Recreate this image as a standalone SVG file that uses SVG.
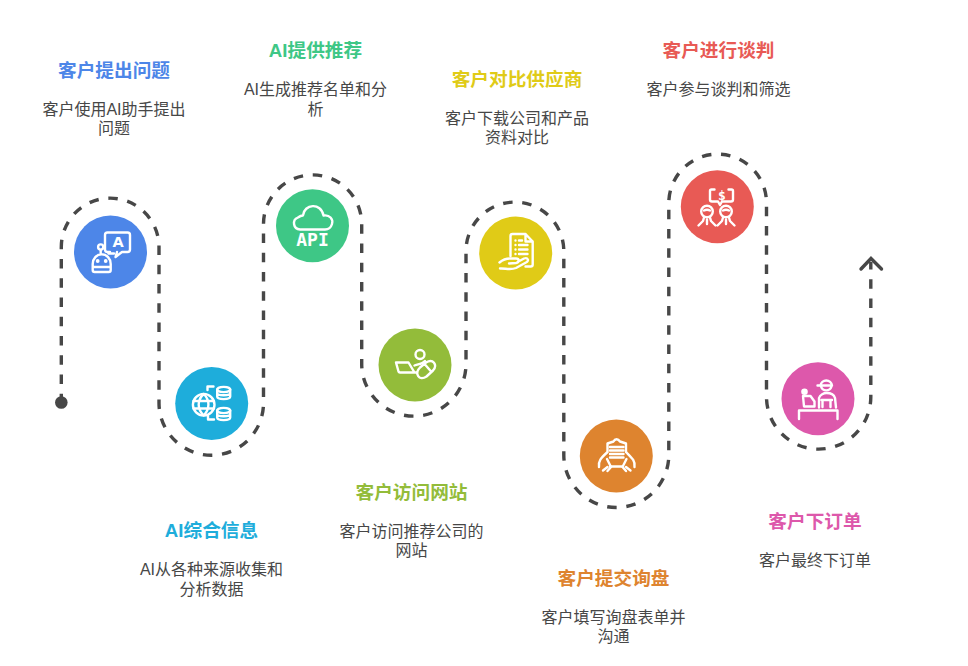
<svg xmlns="http://www.w3.org/2000/svg" width="968" height="666" viewBox="0 0 968 666">
<style>
text{font-family:"Liberation Sans","Noto Sans CJK SC",sans-serif;text-anchor:middle}
.t{font-size:18.67px;font-weight:700}
.b{font-size:16px;fill:#474747}
.ic{fill:none;stroke:#fff;stroke-width:2.4;stroke-linecap:round;stroke-linejoin:round}
.g{font-family:"DejaVu Sans",sans-serif;font-weight:700;fill:#fff}
.m{font-family:"DejaVu Sans Mono",monospace;font-weight:700;fill:#fff}
.ln{fill:none;stroke:#474747;stroke-width:3.4}
</style>
<rect width="968" height="666" fill="#fff"/>
<g id="connectors">
<path class="ln" stroke-dasharray="9.5 9.75" d="M61.3 403.250V247A40 40 0 0 1 159 247V403A40 40 0 0 0 263.500 403V224A40 40 0 0 1 361.700 224V364A40 40 0 0 0 466 364V251A40 40 0 0 1 563.800 251V455A40 40 0 0 0 668.800 455V203A40 40 0 0 1 766.500 203V397A40 40 0 0 0 870.800 397V262"/>
<circle cx="61.3" cy="402.5" r="6.3" fill="#474747"/>
<path class="ln" stroke-linecap="round" d="M861 269L871 258.500L881.500 269"/>
</g>
<g id="n1">
<circle cx="110.500" cy="252" r="36.500" fill="#4d86e8"/>
<path class="ic" d="M110 252H107.500A2.500 2.500 0 0 1 105 249.500V235A2.500 2.500 0 0 1 107.500 232.500H127.500A2.500 2.500 0 0 1 130 235V249.500A2.500 2.500 0 0 1 127.500 252H122L115.500 257L117 252"/>
<text class="g" x="118" y="247" font-size="14.500">A</text>
<path class="ic" d="M108.500 253.500H114"/>
<circle class="ic" cx="100.700" cy="247" r="2.600"/>
<path class="ic" d="M100.700 250V254M92.700 264A8.800 9.500 0 0 1 110.700 264V270A2 2 0 0 1 108.700 272H94.700A2 2 0 0 1 92.700 270ZM93 267H110"/>
<circle cx="97.700" cy="261" r="1.900" fill="#fff"/><circle cx="105.700" cy="261" r="1.900" fill="#fff"/>
</g>
<g id="n2">
<circle cx="211.700" cy="403.500" r="36.500" fill="#1eaddb"/>
<circle class="ic" cx="203.700" cy="404.700" r="10.800"/>
<path class="ic" d="M193.500 401H214M193.500 408.500H214M203.700 394C197 400 197 409 203.700 415.500C210 409 210 400 203.700 394Z" stroke-width="2"/>
<path class="ic" d="M207.500 390V386.500H213.500M208 416V419.500H214"/>
<ellipse class="ic" cx="223.700" cy="389.500" rx="6.500" ry="2.600"/>
<path class="ic" d="M217.200 389.500V396.500C217.200 400 230.200 400 230.200 396.500V389.500M217.200 393C217.200 396 230.200 396 230.200 393"/>
<ellipse class="ic" cx="223.700" cy="410.500" rx="6.500" ry="2.600"/>
<path class="ic" d="M217.200 410.500V417.500C217.200 421 230.200 421 230.200 417.500V410.500M217.200 414C217.200 417 230.200 417 230.200 414"/>
</g>
<g id="n3">
<circle cx="312.500" cy="225.700" r="36.500" fill="#3ec786"/>
<path class="ic" d="M301 229.500H300A6.200 6.200 0 0 1 298 217.500C300 216 301.500 215.500 303 215.500C304 204 321 202 323.500 215.500C329.500 214.500 333.500 219 332 224C331 227.500 328 229.500 325 229.500Z"/>
<text class="m" x="312.500" y="245.500" font-size="18">API</text>
</g>
<g id="n4">
<circle cx="415" cy="365" r="36.500" fill="#93bc3a"/>
<circle class="ic" cx="420" cy="354.500" r="4.500"/>
<path class="ic" d="M414.500 365.500C417 364.500 423 364 425 361M396 362.500H408.500L414.500 372.500H400A1.500 1.500 0 0 1 398.500 371.500ZM414.500 372.500H417"/>
<path class="ic" d="M420 367.500L426 362.500C433 358 438 365 433 370.500L426.500 376.500C419 381.500 414 373.500 420 367.500ZM425 364.500L431.500 372"/>
</g>
<g id="n5">
<circle cx="515.700" cy="253" r="36.500" fill="#e0cb17"/>
<path class="ic" d="M510.500 256V236A2 2 0 0 1 512.500 234H525.500L532.700 241.500V264.500A2 2 0 0 1 530.700 266.500H525.500M525.500 234V241.500H532.700"/>
<path class="ic" d="M515.500 240.500V240.500M515.500 245V245M515.500 249.500V249.500M515.500 254V254M519 245H527.500M519 249.500H527.500M519 254H527.500M519 240.500H522" stroke-width="2.200"/>
<path class="ic" d="M499.500 262.500C503 259.500 506 258.500 510 258.500H516C519.500 258.500 519.500 262.500 516 263L509 263.500M518.500 261.500L524 258.500C528 257 529.500 261 526 262.500L516 268C510 270.500 505 268 500 268.500"/>
</g>
<g id="n6">
<circle cx="616.300" cy="456" r="36.500" fill="#de842f"/>
<path class="ic" d="M607.500 452V443.500L613.500 441.500C615 438.500 618 438.500 620 441.500L626 443.500V452M610 466.500H623"/>
<path class="ic" d="M610 447H623.500M610 450.500H623.500M610 454H623.500M610 457.500H623.500" stroke-width="1.700"/>
<path class="ic" d="M599 467C598 461 601 458 607 452.500M607 459L611 467L607.500 471M603 470.500L607.500 467M634.500 467C635.500 461 632 458 626.500 452.500M626.500 459L622.500 467L626 471M630.500 470.500L626 467"/>
</g>
<g id="n7">
<circle cx="717.300" cy="206.700" r="36.500" fill="#e85a55"/>
<path class="ic" d="M714.500 189.500H711.500A1.500 1.500 0 0 0 710 191V199.500A2 2 0 0 0 712 201.500H718L720 205L722 201.500H731A2 2 0 0 0 733 199.500V191A1.500 1.500 0 0 0 731.500 189.500H728.500"/>
<text class="m" x="721.800" y="199.500" font-size="13">$</text>
<circle class="ic" cx="707" cy="211.500" r="5.800"/><circle class="ic" cx="726" cy="211.500" r="5.800"/>
<path class="ic" d="M704 210.500C706 209.500 708 209.500 710 210.500M723 210.500C725 209.500 727 209.500 729 210.500" stroke-width="1.600"/>
<path class="ic" d="M704 217.500L703 221L698.500 225.500M710 217.500L711 221L715.500 225.500M723 217.500L722 221L717.500 225.500M729 217.500L730 221L734.500 225.500M707 219.500V224M726 219.500V224"/>
</g>
<g id="n8">
<circle cx="818" cy="398.700" r="36.500" fill="#dd58ab"/>
<path class="ic" d="M799 419V410.500H837.500V419"/>
<path class="ic" d="M820.500 385.500A5.800 5.800 0 0 1 832 385.500ZM817.500 385.500H821M821 386.500A5.500 5.500 0 0 0 831.500 386.500"/>
<path class="ic" d="M819 407.500V398C820 394.500 824 393 826.500 393C830 393 834 394.500 835 398L836 407.500M821.500 400H832M822.500 400V407M830.500 400V407"/>
<circle cx="804.500" cy="391.800" r="3.300" fill="#fff"/>
<path class="ic" d="M803 396H810.500L814.500 401.500V406.500H804Z"/>
</g>
<g id="labels">
<text class="t" x="114" y="76.500" fill="#4d86e8">客户提出问题</text>
<text class="b" x="114" y="115">客户使用AI助手提出</text><text class="b" x="114" y="134">问题</text>
<text class="t" x="315.500" y="56.500" fill="#3ec786">AI提供推荐</text>
<text class="b" x="315.500" y="95">AI生成推荐名单和分</text><text class="b" x="315.500" y="115">析</text>
<text class="t" x="517" y="85.500" fill="#e0cb17">客户对比供应商</text>
<text class="b" x="517" y="124">客户下载公司和产品</text><text class="b" x="517" y="143">资料对比</text>
<text class="t" x="718.500" y="56.500" fill="#e85a55">客户进行谈判</text>
<text class="b" x="718.500" y="95">客户参与谈判和筛选</text>
<text class="t" x="211.500" y="536.500" fill="#1eaddb">AI综合信息</text>
<text class="b" x="211.500" y="575">AI从各种来源收集和</text><text class="b" x="211.500" y="595">分析数据</text>
<text class="t" x="411.500" y="498.500" fill="#93bc3a">客户访问网站</text>
<text class="b" x="411.500" y="537">客户访问推荐公司的</text><text class="b" x="411.500" y="556">网站</text>
<text class="t" x="613.500" y="584.500" fill="#de842f">客户提交询盘</text>
<text class="b" x="613.500" y="623">客户填写询盘表单并</text><text class="b" x="613.500" y="642">沟通</text>
<text class="t" x="815" y="527.500" fill="#dd58ab">客户下订单</text>
<text class="b" x="815" y="566">客户最终下订单</text>
</g>
</svg>
